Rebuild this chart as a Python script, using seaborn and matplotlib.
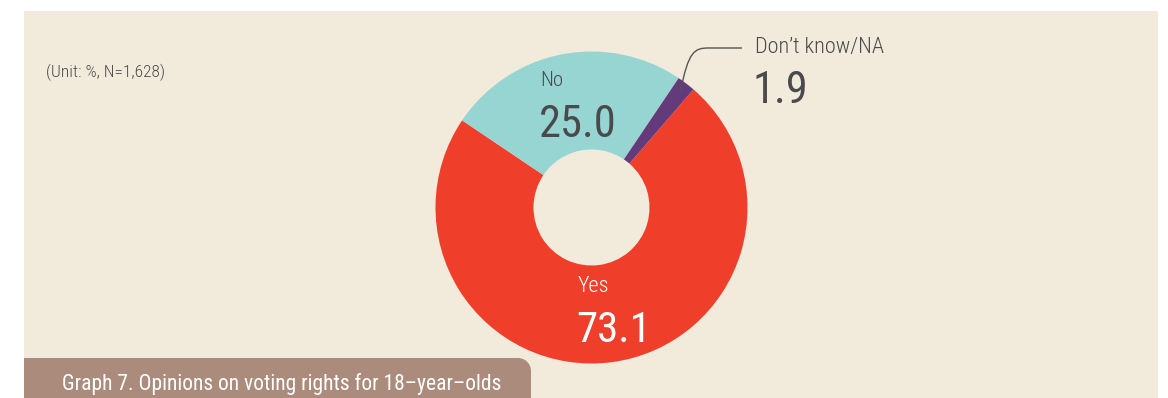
import numpy as np
import matplotlib
matplotlib.use("Agg")
import matplotlib.pyplot as plt
from matplotlib.path import Path
from matplotlib.patches import PathPatch, Rectangle
import seaborn as sns

# ---- data ----
labels = ["Yes", "No", "Don\u2019t know/NA"]
values = [73.1, 25.0, 1.9]
value_labels = ["73.1", "25.0", "1.9"]
unit_note = "(Unit: %, N=1,628)"
title = "Graph 7. Opinions on voting rights for 18\u2013year\u2013olds"

sns.set_theme(style="white")
plt.rcParams["font.family"] = ["Roboto Condensed", "Roboto", "DejaVu Sans"]

palette = sns.color_palette(["#EF3E2A", "#97D5D2", "#633A7A"])
BG = "#F2EBDC"
TXT = "#4A4A4C"
W, H = 1168, 398

fig = plt.figure(figsize=(W / 100, H / 100), dpi=100)
fig.patch.set_facecolor("white")
ax = fig.add_axes([0, 0, 1, 1])

def Y(y):  # image-style y -> data y
    return H - y

# background panel
ax.add_patch(Rectangle((24, 0), 1158 - 24, Y(11), facecolor=BG, edgecolor="none", zorder=0))

# donut
cx, cy, R = 591.5, Y(207.5), 156
start = 49.2
wedges, _ = ax.pie(values, colors=palette, startangle=start, counterclock=False,
                   center=(cx, cy), radius=R,
                   wedgeprops=dict(width=R - 58, edgecolor="none", linewidth=0))
for w in wedges:
    w.set_zorder(2)
ax.set_xlim(0, W)
ax.set_ylim(0, H)
ax.set_aspect("equal")
ax.axis("off")

# labels inside
ax.text(540, Y(86), labels[1], color=TXT, fontsize=15, fontweight="light", ha="left", va="baseline", zorder=3)
ax.text(539, Y(137), value_labels[1], color=TXT, fontsize=32, ha="left", va="baseline", zorder=3)
ax.text(578, Y(292), labels[0], color="white", fontsize=16, fontweight="light", ha="left", va="baseline", zorder=3)
ax.text(576, Y(342), value_labels[0], color="white", fontsize=31, ha="left", va="baseline", zorder=3)

# outside label for small slice with leader line
theta = np.deg2rad(wedges[2].theta1 + wedges[2].theta2) / 2
sx, sy = cx + 0.94 * R * np.cos(theta), cy + 0.94 * R * np.sin(theta)
verts = [(sx, sy), (sx + 8, sy + 40), (sx + 14, Y(48)), (sx + 28, Y(48)), (742, Y(48))]
codes = [Path.MOVETO, Path.CURVE4, Path.CURVE4, Path.CURVE4, Path.LINETO]
ax.add_patch(PathPatch(Path(verts, codes), facecolor="none", edgecolor="#555555", lw=1.0, zorder=4))
ax.text(755, Y(53), labels[2], color=TXT, fontsize=16, fontweight="light", ha="left", va="baseline", zorder=3)
ax.text(753, Y(103), value_labels[2], color=TXT, fontsize=32, ha="left", va="baseline", zorder=3)

# unit note
ax.text(46, Y(77), unit_note, color=TXT, fontsize=12.5, fontweight="light", ha="left", va="baseline", zorder=3)

# title tab with rounded top-right corner
x0, x1, yt, yb, r = 24, 531, Y(358), Y(398), 13
k = 0.5523 * r
tverts = [(x0, yb), (x0, yt), (x1 - r, yt),
          (x1 - r + k, yt), (x1, yt - r + k), (x1, yt - r),
          (x1, yb), (x0, yb)]
tcodes = [Path.MOVETO, Path.LINETO, Path.LINETO,
          Path.CURVE4, Path.CURVE4, Path.CURVE4,
          Path.LINETO, Path.CLOSEPOLY]
ax.add_patch(PathPatch(Path(tverts, tcodes), facecolor="#AB8B7B", edgecolor="none", zorder=3))
ax.text(62, Y(390), title, color="white", fontsize=15.5, ha="left", va="baseline", zorder=4)

fig.savefig("out.png", dpi=100, facecolor="white")
